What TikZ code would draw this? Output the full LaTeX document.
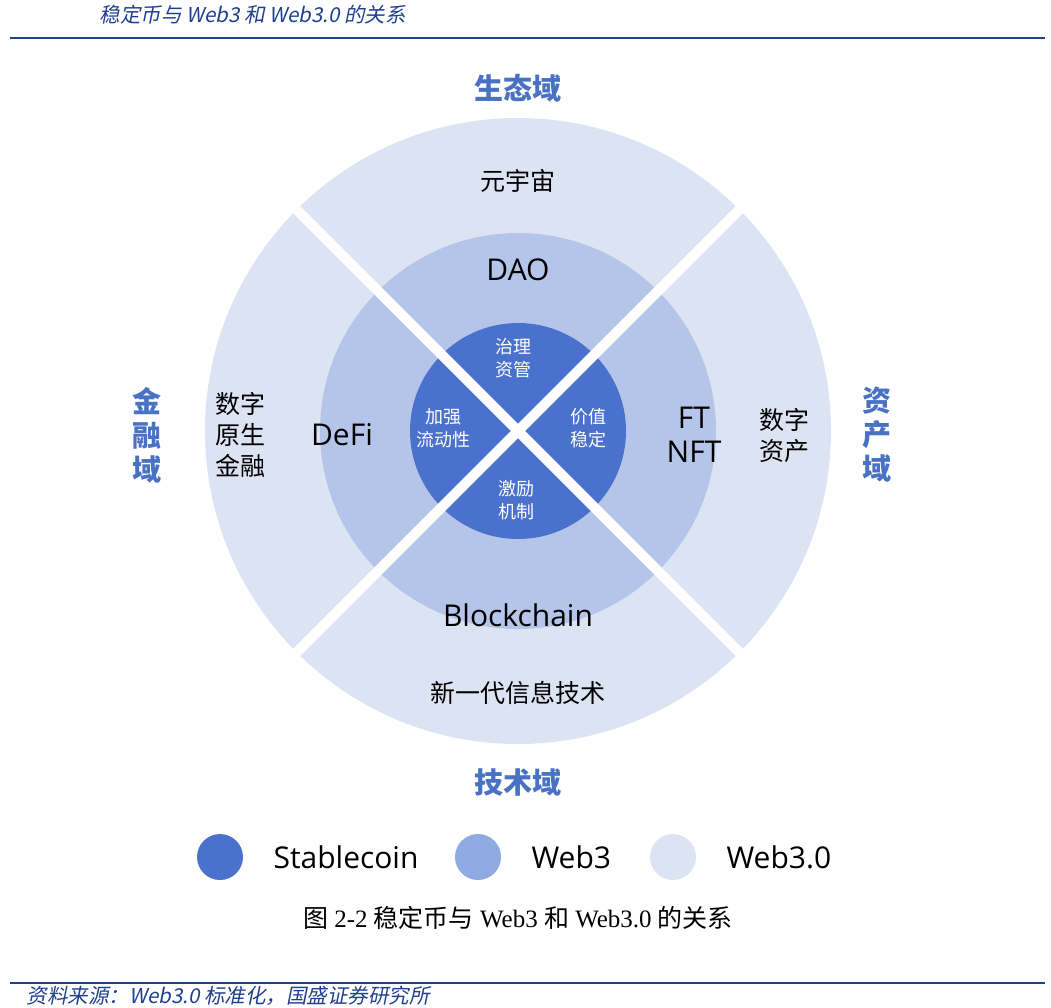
\documentclass[tikz,border=0pt]{standalone}
\usetikzlibrary{calc}
\usepackage{fontspec}
\setmainfont{Liberation Serif}
\newfontfamily\cjk{Noto Sans CJK SC}
\newfontfamily\cjkit[FakeSlant=0.2]{Noto Sans CJK SC}
\newfontfamily\latsans{Open Sans}
\begin{document}
\begin{tikzpicture}[x=1pt,y=-1pt,
  dom/.style={font=\cjk\bfseries\fontsize{29}{34}\selectfont,text=domc},
  ring/.style={font=\cjk\fontsize{25}{30}\selectfont,align=center},
  mid/.style={font=\latsans\fontsize{30}{36}\selectfont,align=center},
  inn/.style={font=\cjk\fontsize{18}{23}\selectfont,text=white,align=center},
  leg/.style={font=\latsans\fontsize{30}{36}\selectfont,anchor=west}]
\definecolor{c1}{HTML}{4A72CC}
\definecolor{c2}{HTML}{B5C5EA}
\definecolor{c3}{HTML}{DCE4F4}
\definecolor{c2l}{HTML}{8EAAE0}
\definecolor{domc}{HTML}{4A72C4}
\definecolor{hdr}{HTML}{1F3F8F}
\useasboundingbox (0,0) rectangle (1051,1007);
\fill[white] (0,0) rectangle (1051,1007);
\node[anchor=west,font=\cjkit\fontsize{20.5}{24}\selectfont,text=hdr] (hd) at (96,15) {稳定币与 Web3 和 Web3.0 的关系};
\draw[hdr,line width=1.2] (10,38) -- (1045,38);
\coordinate (c) at (518,431);
\fill[c3] (c) circle (313);
\fill[c2] (c) circle (198);
\fill[c1] (c) circle (108);
\draw[white,line width=10] ($(c)+(-230,-230)$) -- ($(c)+(230,230)$);
\draw[white,line width=10] ($(c)+(230,-230)$) -- ($(c)+(-230,230)$);
\node[dom] (d1) at (518,88) {生态域};
\node[dom] (d2) at (518,782) {技术域};
\node[dom,align=center,font=\cjk\bfseries\fontsize{29}{34}\selectfont] (d3) at (147,435) {金\\融\\域};
\node[dom,align=center,font=\cjk\bfseries\fontsize{29}{34}\selectfont] (d4) at (877,435) {资\\产\\域};
\node[ring] (r1) at (518,181) {元宇宙};
\node[ring] (r2) at (518,693) {新一代信息技术};
\node[ring,font=\cjk\fontsize{25}{31}\selectfont] (r3) at (240,435) {数字\\原生\\金融};
\node[ring,font=\cjk\fontsize{25}{31}\selectfont] (r4) at (784,435) {数字\\资产};
\node[mid] (m1) at (518,270) {DAO};
\node[mid] (m2) at (518,615) {Blockchain};
\node[mid] (m3) at (342,435) {DeFi};
\node[mid,font=\latsans\fontsize{30}{34}\selectfont] (m4) at (694,435) {FT\\NFT};
\node[inn] (i1) at (513,358) {治理\\资管};
\node[inn] (i2) at (443,428) {加强\\流动性};
\node[inn] (i3) at (588,428) {价值\\稳定};
\node[inn] (i4) at (516,500) {激励\\机制};
\fill[c1] (220,857) circle (23);
\fill[c2l] (478,857) circle (23);
\fill[c3] (673,857) circle (23);
\node[leg] (l1) at (270,857) {Stablecoin};
\node[leg] (l2) at (528,857) {Web3};
\node[leg] (l3) at (723,857) {Web3.0};
\node[font=\fontsize{25}{30}\selectfont] (cap) at (518,918) {{\cjk 图} 2-2 {\cjk 稳定币与} Web3 {\cjk 和} Web3.0 {\cjk 的关系}};
\draw[hdr,line width=1.2] (10,983) -- (1045,983);
\node[anchor=west,font=\cjkit\fontsize{20.5}{24}\selectfont,text=hdr] (src) at (23,996) {资料来源：Web3.0 标准化，国盛证券研究所};
\end{tikzpicture}
\end{document}
